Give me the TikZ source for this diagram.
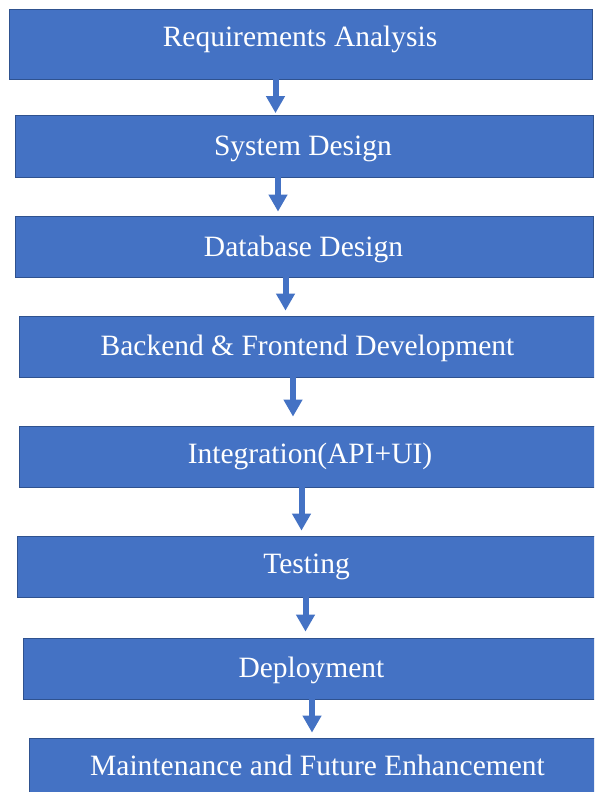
\documentclass[tikz,border=0pt]{standalone}
\usepackage{fontspec}
\setmainfont{Liberation Serif}
\usetikzlibrary{arrows.meta}
\definecolor{boxfill}{HTML}{4472C4}
\definecolor{boxline}{HTML}{2F528F}
\tikzset{
  stepbox/.style={draw=boxline, line width=0.8pt, fill=boxfill, inner sep=0pt, rectangle},
  lbl/.style={text=white, inner sep=0pt, anchor=base, font=\fontsize{29.5}{35}\selectfont},
  flowarrow/.style={draw=boxfill, line width=6pt, -{Triangle[width=18pt,length=17pt]}, fill=boxfill}
}
\begin{document}
\begin{tikzpicture}[x=1pt,y=-1pt]
\clip (0,0) rectangle (594,792);
\fill[white] (0,0) rectangle (594,792);
% boxes
\node[stepbox, minimum width=583pt, minimum height=70pt] (b1) at (300.5,44) {};
\node[stepbox, minimum width=578pt, minimum height=62pt] (b2) at (304,146) {};
\node[stepbox, minimum width=578pt, minimum height=61pt] (b3) at (304,246.5) {};
\node[stepbox, minimum width=591pt, minimum height=61pt] (b4) at (314.5,346.5) {};
\node[stepbox, minimum width=591pt, minimum height=61pt] (b5) at (314.5,456.5) {};
\node[stepbox, minimum width=593pt, minimum height=61pt] (b6) at (313.5,566.5) {};
\node[stepbox, minimum width=587pt, minimum height=61pt] (b7) at (316.5,668.5) {};
\node[stepbox, minimum width=581pt, minimum height=66pt] (b8) at (319.5,771) {};
% labels
\node[lbl] (t1) at (300,47) {Requirements Analysis};
\node[lbl] (t2) at (303,155) {System Design};
\node[lbl] (t3) at (303.5,256) {Database Design};
\node[lbl] (t4) at (307.5,355) {Backend \& Frontend Development};
\node[lbl] (t5) at (310,463) {Integration(API+UI)};
\node[lbl] (t6) at (306.5,573) {Testing};
\node[lbl] (t7) at (311.5,677) {Deployment};
\node[lbl] (t8) at (317.5,775) {Maintenance and Future Enhancement};
% arrow x positions
\coordinate (x1) at (275.5,0);
\coordinate (x2) at (278,0);
\coordinate (x3) at (285.5,0);
\coordinate (x4) at (293,0);
\coordinate (x5) at (301.5,0);
\coordinate (x6) at (305.5,0);
\coordinate (x7) at (312,0);
% arrows
\draw[flowarrow, shorten >=1.5pt] (b1.south -| x1) -- (b2.north -| x1);
\draw[flowarrow, shorten >=4pt] (b2.south -| x2) -- (b3.north -| x2);
\draw[flowarrow, shorten >=5pt] (b3.south -| x3) -- (b4.north -| x3);
\draw[flowarrow, shorten >=9pt] (b4.south -| x4) -- (b5.north -| x4);
\draw[flowarrow, shorten >=5pt] (b5.south -| x5) -- (b6.north -| x5);
\draw[flowarrow, shorten >=6pt] (b6.south -| x6) -- (b7.north -| x6);
\draw[flowarrow, shorten >=5pt] (b7.south -| x7) -- (b8.north -| x7);
\end{tikzpicture}
\end{document}
